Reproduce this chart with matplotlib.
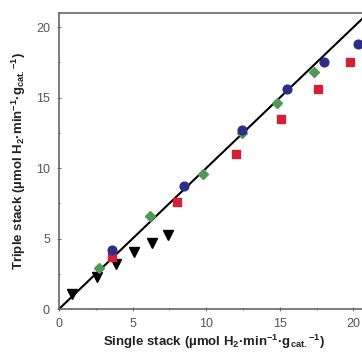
import matplotlib
matplotlib.use("Agg")
import matplotlib.pyplot as plt
from matplotlib.ticker import MultipleLocator

plt.rcParams['font.family'] = ['Liberation Sans', 'DejaVu Sans']
plt.rcParams['mathtext.fontset'] = 'custom'
plt.rcParams['mathtext.rm'] = 'Liberation Sans:bold'
plt.rcParams['mathtext.bf'] = 'Liberation Sans:bold'
plt.rcParams['mathtext.it'] = 'Liberation Sans:bold'

# Series: (single stack, triple stack) rates
blue_x = [3.6, 8.5, 12.4, 15.5, 18.0, 20.3]
blue_y = [4.2, 8.7, 12.7, 15.6, 17.5, 18.8]

red_x = [3.6, 8.0, 12.0, 15.1, 17.6, 19.8]
red_y = [3.7, 7.6, 11.0, 13.5, 15.6, 17.5]

green_x = [2.7, 6.2, 9.8, 12.4, 14.8, 17.3]
green_y = [2.9, 6.6, 9.6, 12.5, 14.6, 16.8]

tri_x = [0.9, 2.6, 3.9, 5.1, 6.3, 7.4]
tri_y = [1.05, 2.25, 3.2, 4.05, 4.7, 5.25]

parity = [0, 22]

fig = plt.figure(figsize=(3.62, 3.54), dpi=100)
ax = fig.add_axes([0.163, 0.127, 0.854, 0.836])

ax.plot(parity, parity, color='black', lw=1.5, zorder=2)
ax.plot(tri_x, tri_y, linestyle='none', marker='v', color='black', ms=6.5, zorder=3)
ax.plot(green_x, green_y, linestyle='none', marker='D', color='#4f9a52', ms=5, zorder=3)
ax.plot(red_x, red_y, linestyle='none', marker='s', color='#d42035', ms=6, zorder=3)
ax.plot(blue_x, blue_y, linestyle='none', marker='o', color='#2b2f86', ms=6.3, zorder=4)

ax.set_xlim(0, 21)
ax.set_ylim(0, 21)
ax.xaxis.set_major_locator(MultipleLocator(5))
ax.yaxis.set_major_locator(MultipleLocator(5))
ax.xaxis.set_minor_locator(MultipleLocator(2.5))
ax.yaxis.set_minor_locator(MultipleLocator(2.5))
ax.tick_params(which='both', direction='inout', length=3, width=0.8, color='#777777',
               labelsize=9, labelcolor='#555555', pad=5)
ax.tick_params(which='minor', length=2)
for s in ax.spines.values():
    s.set_color('#666666')
    s.set_linewidth(1.2)

ax.set_xlabel(r'Single stack (µmol H$_2$·min$^{-1}$·g$_{cat.}$$^{-1}$)',
              fontsize=9.5, fontweight='bold', color='#222222', labelpad=2)
ax.set_ylabel(r'Triple stack (µmol H$_2$·min$^{-1}$·g$_{cat.}$$^{-1}$)',
              fontsize=9.5, fontweight='bold', color='#222222', labelpad=6)

fig.savefig('out.png', dpi=100)
